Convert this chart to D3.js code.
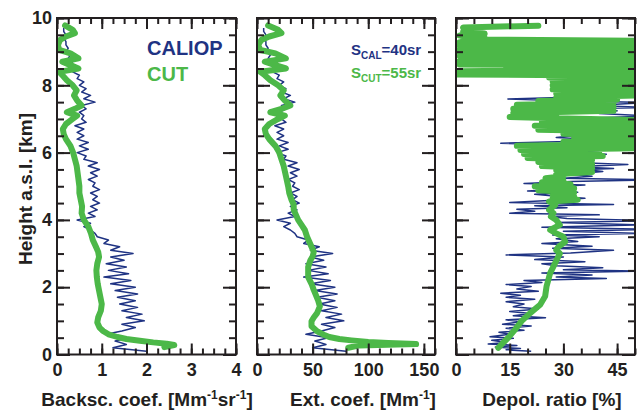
<!DOCTYPE html>
<html>
<head>
<meta charset="utf-8">
<script src="https://cdn.jsdelivr.net/npm/d3@7"></script>
<style>
body { margin: 0; background: #fff; }
text { font-family: "Liberation Sans", Arial, sans-serif; font-weight: bold; }
</style>
</head>
<body>
<svg id="chart" width="640" height="414"></svg>
<script>
// CALIOP profiles (height in km)
var calHeight = [0.1,0.2,0.3,0.4,0.5,0.6,0.7,0.8,0.9,1.0,
    1.1,1.2,1.3,1.4,1.5,1.6,1.7,1.8,1.9,2.0,
    2.1,2.2,2.3,2.4,2.5,2.6,2.7,2.8,2.9,3.0,
    3.1,3.2,3.3,3.4,3.5,3.6,3.7,3.8,3.9,4.0,
    4.1,4.2,4.3,4.4,4.5,4.6,4.7,4.8,4.9,5.0,
    5.1,5.2,5.3,5.4,5.5,5.6,5.7,5.8,5.9,6.0,
    6.1,6.2,6.3,6.4,6.5,6.6,6.7,6.8,6.9,7.0,
    7.1,7.2,7.3,7.4,7.5,7.6,7.7,7.8,7.9,8.0,
    8.1,8.2,8.3,8.4,8.5,8.6,8.7,8.8,8.9,9.0,
    9.1,9.2,9.3,9.4,9.5,9.6,9.7];
var calBsc = [2.0,1.25,1.55,1.3,1.6,1.1,1.45,1.75,1.45,1.95,
    1.55,1.9,1.45,1.8,1.4,1.75,1.35,1.8,1.3,1.75,
    1.2,1.65,1.05,1.6,1.15,1.55,1.1,1.5,1.2,1.7,
    1.2,1.4,1.05,1.15,0.9,0.85,0.75,0.6,0.75,0.45,
    0.85,0.7,0.9,0.75,0.95,0.8,0.9,0.75,0.95,0.8,
    0.85,0.7,0.9,0.75,0.95,0.7,0.9,0.6,0.65,0.45,
    0.7,0.5,0.7,0.45,0.6,0.45,0.6,0.4,0.65,0.55,
    0.6,0.5,0.65,0.55,0.85,0.6,0.75,0.55,0.65,0.5,
    0.6,0.45,0.5,0.35,0.4,0.3,0.35,0.25,0.3,0.2,
    0.25,0.2,0.2,0.15,0.2,0.15,0.15];
var calExt = [80,50,62,52,64,44,58,70,58,78,
    62,76,58,72,56,70,54,72,52,70,
    48,66,42,64,46,62,44,60,48,68,
    48,56,42,46,36,34,30,24,30,18,
    34,28,36,30,38,32,36,30,38,32,
    34,28,36,30,38,28,36,24,26,18,
    28,20,28,18,24,18,24,16,26,22,
    24,20,26,22,34,24,30,22,26,20,
    24,18,20,14,16,12,14,10,12,8,
    10,8,8,6,8,6,6];
var calDepHeight = [0.10,0.14,0.18,0.22,0.27,0.31,0.36,0.42,0.48,0.53,
    0.6,0.66,0.72,0.78,0.85,0.9,0.97,1.03,1.09,1.15,
    1.22,1.28,1.35,1.42,1.5,1.57,1.64,1.7,1.76,1.82,
    1.88,1.95,2.02,2.08,2.14,2.2,2.26,2.3,2.36,2.42,
    2.48,2.52,2.58,2.64,2.7,2.76,2.82,2.9,2.96,3.02,
    3.1,3.16,3.22,3.3,3.36,3.44,3.5,3.55,3.6,3.66,
    3.72,3.78,3.85,3.92,3.98,4.04,4.1,4.15,4.2,4.26,
    4.32,4.36,4.42,4.46,4.52,4.58,4.64,4.7,4.76,4.82,
    4.86,4.92,4.98,5.04,5.08,5.14,5.19,5.24,5.3,5.36,
    5.44,5.5,5.53,5.58,5.65,5.7,5.77,5.82,5.9,5.95,
    6.0,6.06,6.12,6.16,6.22,6.28,6.33,6.4,6.45,6.5,
    6.56,6.62,6.68,6.75,6.82,6.9,6.95,7.02,7.09,7.16,
    7.24,7.3,7.34,7.4,7.49,7.54,7.59,7.64,7.7,7.75,
    7.8,7.86,7.92,8.0,8.08,8.16,8.24,8.3,8.38,8.47,
    8.53,8.58,8.65,8.75,8.85,8.95,9.05,9.15,9.25];
var calDep = [21,14,18,11,17,9,14,10,16,9.5,
    15,12,19,14,21,13,18,14,25,16,
    21,15,23,16,19,14,22,14,18,12.5,
    23,17,21,14,24,19,42,28,38,24,
    52,30,41,28,24,36,22,30,14,32,
    44,27,38,24,34,28,40,27,52,30,
    54,24,52,28,55,31,26,40,15,22,
    17,31,22,44,15,26,36,28,22,34,
    20,30,25,36,19,32,55,30,38,32,
    41,36,44,33,48,35,26,38,34,42,
    32,40,36,55,33,12.5,31,38,28,33,
    45,36,50,38,46,28,44,36,55,40,
    45,34,55,38,55,30,14.5,29,40,36,
    55,40,35,44,38,48,40,52,42,48,
    32,55,45,40,50,35,45,30,40];

// CUT lidar profiles
var cutBscHeight = [0.22,0.28,0.32,0.36,0.41,0.46,0.52,0.6,0.7,0.8,
    0.95,1.1,1.3,1.5,1.7,1.9,2.1,2.3,2.5,2.7,
    2.9,3.05,3.2,3.4,3.6,3.8,4.0,4.2,4.4,4.6,
    4.8,5.0,5.3,5.6,5.8,6.0,6.2,6.4,6.55,6.7,
    6.85,7.0,7.1,7.2,7.3,7.4,7.55,7.7,7.85,8.0,
    8.15,8.3,8.4,8.5,8.6,8.7,8.8,8.95,9.05,9.2,
    9.35,9.45,9.55,9.65,9.78];
var cutBsc = [2.4,2.62,2.45,2.15,1.85,1.55,1.35,1.15,1.03,0.95,
    0.9,0.92,0.98,1.0,0.97,0.94,0.91,0.89,0.88,0.9,
    0.94,0.92,0.87,0.8,0.76,0.7,0.6,0.55,0.56,0.53,
    0.5,0.5,0.47,0.44,0.4,0.36,0.3,0.2,0.15,0.13,
    0.2,0.35,0.45,0.22,0.4,0.55,0.45,0.38,0.44,0.35,
    0.22,0.12,0.05,0.48,0.3,0.12,0.48,0.3,0.05,0.02,
    0.07,0.2,0.4,0.35,0.18];
var cutExtHeight = [0.2,0.27,0.31,0.34,0.37,0.42,0.46,0.52,0.59,0.69,
    0.84,0.99,1.1,1.23,1.43,1.6,1.92,2.1,2.3,2.6,
    2.8,2.91,3.05,3.2,3.35,3.5,3.7,3.85,4.0,4.15,
    4.3,4.45,4.6,4.8,5.0,5.3,5.6,5.8,6.0,6.2,
    6.4,6.55,6.7,6.85,7.0,7.1,7.2,7.3,7.4,7.55,
    7.7,7.85,8.0,8.15,8.3,8.4,8.5,8.6,8.7,8.8,
    8.95,9.05,9.2,9.35,9.45,9.55,9.65,9.78];
var cutExt = [82,92,143,118,100,85,74,65,60,54,
    49,49,51,54,56.5,55,51,49,46,46,
    48,50,51,49,47,45,43,40,37,35,
    33,33,31,29,28,26,24,22,20,16.5,
    11,8,7,11,19,25,12,22,30,25,
    21,24,19,12,7,3,26,16.5,7,26,
    16.5,3,1,4,11,22,19,10];
var cutDepHeight = [0.2,0.35,0.5,0.74,0.99,1.23,1.48,1.73,2.03,2.22,
    2.42,2.61,2.81,3.0,3.1,3.2,3.35,3.5,3.6,3.7,
    3.85,4.0,4.1,4.2,4.3,4.44,
    4.55,4.6,4.65,4.7,4.76,4.82,4.88,4.94,5.0,5.06,
    5.12,5.18,5.24,5.3,5.36,5.42,5.48,5.54,5.6,5.66,
    5.72,5.78,5.84,5.9,5.96,6.02,6.08,6.14,6.2,6.26,
    6.32,6.38,6.44,6.5,6.56,6.62,6.68,6.74,6.8,6.86,
    6.92,6.97,7.02,7.06,7.12,7.18,7.24,7.3,7.36,7.42,
    7.48,7.53,7.58,7.64,7.7,7.76,7.82,7.88,7.94,8.0,
    8.06,8.12,8.18,8.23,8.28,8.32,8.37,8.42,8.47,8.52,
    8.57,8.62,8.67,8.72,8.77,8.8,8.84,8.88,8.93,8.98,
    9.03,9.08,9.13,9.18,9.23,9.28,9.32,9.36,9.42,9.48,
    9.54,9.6,9.66,9.72,9.77];
var cutDep = [11.8,13.2,14.6,16.5,18.3,20.7,23.5,24.9,25.3,25.8,
    26.3,27.2,28.1,29,28,28.6,30.5,30,28,26.3,
    29,28,26.5,27.2,26,27.7,
    26,34,27,33,27,33,23,33,22,32,
    24,30,25,30,28,38,28,38,24,38,
    23,38,20,41,19,40,18,55,17,55,
    30,55,33,55,30,55,23,55,22,55,
    24,50,28,15,28,16,44,16,44,17,
    44,23,45,28,50,28,52,27,60,27,
    60,27,60,26,60,0.5,60,1,60,14,
    60,1,60,1,60,18,60,1,60,1,
    60,1,60,1,60,1,60,2,8,1,
    8,2,3,2,23];

// ticks
var heightMajor = [0,2,4,6,8,10];
var heightMinor = [0,0.5,1,1.5,2,2.5,3,3.5,4,4.5,5,5.5,6,6.5,7,7.5,8,8.5,9,9.5,10];
var bscMajor = [0,1,2,3,4];
var bscMinor = [0,0.25,0.5,0.75,1,1.25,1.5,1.75,2,2.25,2.5,2.75,3,3.25,3.5,3.75,4];
var extMajor = [0,50,100,150];
var extMinor = [0,10,20,30,40,50,60,70,80,90,100,110,120,130,140,150,160];
var depMajor = [0,15,30,45];
var depMinor = [0,5,10,15,20,25,30,35,40,45,50];

var blue = "#1f3383", green = "#4cb848", ink = "#231f20";

var svg = d3.select("#chart");
var y = d3.scaleLinear().domain([0, 10]).range([354.5, 18]);

var panels = [
    {id: "bsc", x: d3.scaleLinear().domain([0, 4]).range([57, 236]), major: bscMajor, minor: bscMinor,
     cal: d3.zip(calHeight, calBsc), cut: d3.zip(cutBscHeight, cutBsc), yLabels: true},
    {id: "ext", x: d3.scaleLinear().domain([0, 160]).range([257, 435]), major: extMajor, minor: extMinor,
     cal: d3.zip(calHeight, calExt), cut: d3.zip(cutExtHeight, cutExt), yLabels: false},
    {id: "dep", x: d3.scaleLinear().domain([0, 50]).range([456, 635]), major: depMajor, minor: depMinor,
     cal: d3.zip(calDepHeight, calDep), cut: d3.zip(cutDepHeight, cutDep), yLabels: false}
];

function styleAxis(g) {
    g.select(".domain").remove();
    g.selectAll(".tick line").attr("stroke", ink).attr("stroke-width", 2);
    g.selectAll("text").attr("font-size", 18).attr("fill", ink)
        .attr("font-family", "Liberation Sans, Arial, sans-serif").attr("font-weight", "bold");
}

panels.forEach(function(p) {
    var x = p.x;
    var x0 = x.range()[0], x1 = x.range()[1];
    var g = svg.append("g");

    svg.append("clipPath").attr("id", "clip-" + p.id)
        .append("rect").attr("x", x0).attr("y", y(10)).attr("width", x1 - x0).attr("height", y(0) - y(10));

    var line = d3.line().x(d => x(d[1])).y(d => y(d[0]));

    var plot = g.append("g").attr("clip-path", "url(#clip-" + p.id + ")");
    plot.append("path").datum(p.cal)
        .attr("d", line).attr("fill", "none").attr("stroke", blue)
        .attr("stroke-width", 1.5).attr("stroke-linejoin", "round");
    plot.append("path").datum(p.cut)
        .attr("d", line).attr("fill", "none").attr("stroke", green)
        .attr("stroke-width", 6).attr("stroke-linejoin", "round").attr("stroke-linecap", "round");

    // bottom
    g.append("g").attr("transform", "translate(0," + y(0) + ")")
        .call(d3.axisBottom(x).tickValues(p.minor).tickSize(-6).tickSizeOuter(0).tickFormat(""))
        .call(styleAxis);
    g.append("g").attr("transform", "translate(0," + y(0) + ")")
        .call(d3.axisBottom(x).tickValues(p.major).tickSize(-11).tickSizeOuter(0).tickPadding(9).tickFormat(d3.format("d")))
        .call(styleAxis);
    // top
    g.append("g").attr("transform", "translate(0," + y(10) + ")")
        .call(d3.axisTop(x).tickValues(p.minor).tickSize(-6).tickSizeOuter(0).tickFormat(""))
        .call(styleAxis);
    g.append("g").attr("transform", "translate(0," + y(10) + ")")
        .call(d3.axisTop(x).tickValues(p.major).tickSize(-11).tickSizeOuter(0).tickFormat(""))
        .call(styleAxis);
    // left
    g.append("g").attr("transform", "translate(" + x0 + ",0)")
        .call(d3.axisLeft(y).tickValues(heightMinor).tickSize(-7).tickSizeOuter(0).tickFormat(""))
        .call(styleAxis);
    g.append("g").attr("transform", "translate(" + x0 + ",0)")
        .call(d3.axisLeft(y).tickValues(heightMajor).tickSize(-13).tickSizeOuter(0).tickPadding(5)
            .tickFormat(p.yLabels ? d3.format("d") : ""))
        .call(styleAxis);
    // right
    g.append("g").attr("transform", "translate(" + x1 + ",0)")
        .call(d3.axisRight(y).tickValues(heightMinor).tickSize(-7).tickSizeOuter(0).tickFormat(""))
        .call(styleAxis);
    g.append("g").attr("transform", "translate(" + x1 + ",0)")
        .call(d3.axisRight(y).tickValues(heightMajor).tickSize(-13).tickSizeOuter(0).tickFormat(""))
        .call(styleAxis);

    g.append("rect").attr("x", x0).attr("y", y(10)).attr("width", x1 - x0).attr("height", y(0) - y(10))
        .attr("fill", "none").attr("stroke", ink).attr("stroke-width", 2);
});

// axis titles
svg.append("text").attr("transform", "translate(32,189) rotate(-90)")
    .attr("text-anchor", "middle").attr("font-size", 19).attr("fill", ink)
    .text("Height a.s.l. [km]");

var t1 = svg.append("text").attr("x", 147).attr("y", 406).attr("text-anchor", "middle")
    .attr("font-size", 19).attr("fill", ink);
t1.append("tspan").text("Backsc. coef. [Mm");
t1.append("tspan").attr("dy", -7).attr("font-size", 12).text("-1");
t1.append("tspan").attr("dy", 7).text("sr");
t1.append("tspan").attr("dy", -7).attr("font-size", 12).text("-1");
t1.append("tspan").attr("dy", 7).text("]");

var t2 = svg.append("text").attr("x", 363).attr("y", 406).attr("text-anchor", "middle")
    .attr("font-size", 19).attr("fill", ink);
t2.append("tspan").text("Ext. coef. [Mm");
t2.append("tspan").attr("dy", -7).attr("font-size", 12).text("-1");
t2.append("tspan").attr("dy", 7).text("]");

svg.append("text").attr("x", 552).attr("y", 406).attr("text-anchor", "middle")
    .attr("font-size", 19).attr("fill", ink).text("Depol. ratio [%]");

// legends
svg.append("text").attr("x", 147).attr("y", 55).attr("font-size", 20).attr("fill", blue).text("CALIOP");
svg.append("text").attr("x", 147).attr("y", 81).attr("font-size", 20).attr("fill", green).text("CUT");

var s1 = svg.append("text").attr("x", 351).attr("y", 55).attr("font-size", 15).attr("fill", blue);
s1.append("tspan").text("S");
s1.append("tspan").attr("dy", 4).attr("font-size", 10).text("CAL");
s1.append("tspan").attr("dy", -4).text("=40sr");
var s2 = svg.append("text").attr("x", 351).attr("y", 78).attr("font-size", 15).attr("fill", green);
s2.append("tspan").text("S");
s2.append("tspan").attr("dy", 4).attr("font-size", 10).text("CUT");
s2.append("tspan").attr("dy", -4).text("=55sr");
</script>
</body>
</html>
